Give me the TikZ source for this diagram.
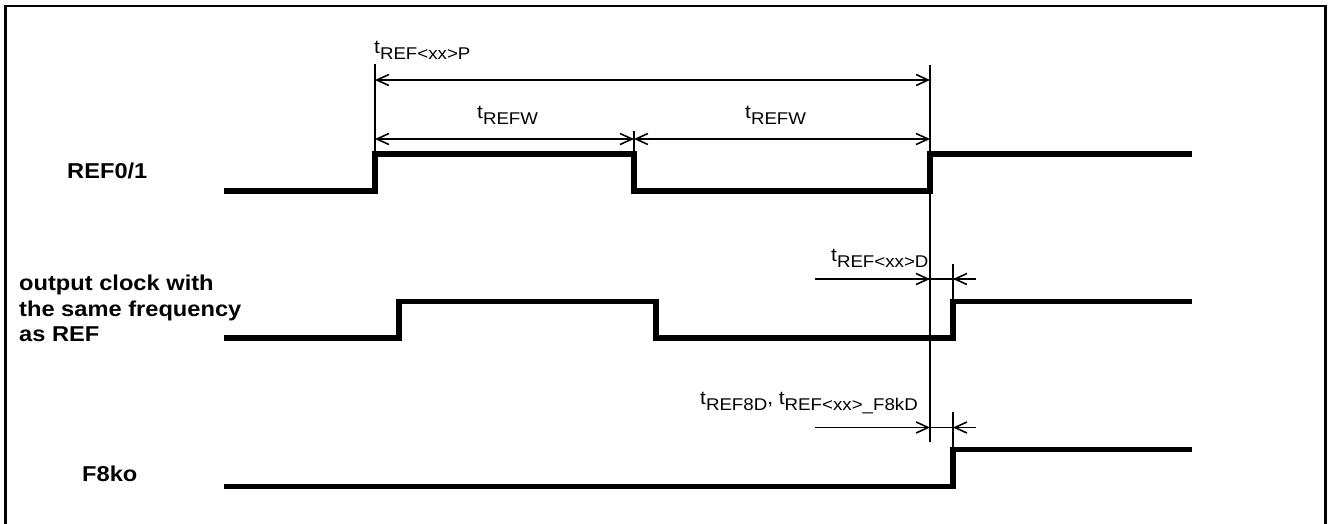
\documentclass[tikz,border=0pt]{standalone}
\usepackage{fontspec}
\setmainfont{Liberation Sans}[FakeStretch=1.1]
\usetikzlibrary{arrows.meta}
\newcommand{\tsub}[1]{{\fontsize{19}{20}\selectfont t}\raisebox{-5.5pt}{\fontsize{17}{18}\selectfont #1}}
\begin{document}
\begin{tikzpicture}[x=1pt,y=-1pt,
  sig/.style={line width=5.5pt, line join=miter, line cap=butt},
  dim/.style={line width=1.6pt},
  barb/.tip={Straight Barb[length=12pt,width=11pt,line width=1.6pt]},
  lab/.style={font=\fontsize{21.5}{25.5}\selectfont\bfseries, anchor=base west, inner sep=0pt},
  tl/.style={anchor=base west, inner sep=0pt}]
\useasboundingbox (0,0) rectangle (1328,523);
\draw[line width=2.6pt] (5.5,6) rectangle (1325.5,545);
% signals
\draw[sig] (224,191) -| (375,154) -| (634,191) -| (930,154) -- (1192,154);
\draw[sig] (224,338) -| (399,301.5) -| (656,338) -| (953,301.5) -- (1192,301.5);
\draw[sig] (224,486.5) -| (953,449.5) -- (1192,449.5);
% reference lines
\coordinate (r1t) at (375,64);   \coordinate (r1b) at (375,154);
\coordinate (f1t) at (634,131);  \coordinate (f1b) at (634,154);
\coordinate (r2t) at (930,65);   \coordinate (r2b) at (930,442);
\coordinate (d1t) at (953,264);  \coordinate (d1b) at (953,301.5);
\coordinate (d2t) at (953,412);  \coordinate (d2b) at (953,449.5);
\draw[dim] (r1t) -- (r1b);
\draw[dim] (f1t) -- (f1b);
\draw[dim] (r2t) -- (r2b);
\draw[dim] (d1t) -- (d1b);
\draw[dim] (d2t) -- (d2b);
% period / width arrows
\coordinate (pA) at (375,80);  \coordinate (pB) at (930,80);
\coordinate (wA) at (375,139); \coordinate (wB) at (634,139); \coordinate (wC) at (930,139);
\draw[dim,barb-barb] (pA) -- (pB);
\draw[dim,barb-barb] (wA) -- (wB);
\draw[dim,barb-barb] (wB) -- (wC);
% delay arrows
\coordinate (dA) at (815,279); \coordinate (dB) at (930,279); \coordinate (dC) at (953,279); \coordinate (dD) at (976,279);
\draw[dim] (dA) -- (dD);
\draw[dim,-barb] (dA) -- (dB);
\draw[dim,-barb] (dD) -- (dC);
\coordinate (eA) at (815,427.5); \coordinate (eB) at (930,427.5); \coordinate (eC) at (953,427.5); \coordinate (eD) at (976,427.5);
\draw[dim] (eA) -- (eD);
\draw[dim,-barb] (eA) -- (eB);
\draw[dim,-barb] (eD) -- (eC);
% timing labels
\node[tl] (lp) at (374,53.8) {\tsub{REF<xx>P}};
\node[tl] (lw1) at (477,118.8) {\tsub{REFW}};
\node[tl] (lw2) at (745,118.8) {\tsub{REFW}};
\node[tl] (ld) at (831,261.5) {\tsub{REF<xx>D}};
\node[tl] (le) at (700,404.5) {\tsub{REF8D}{\fontsize{19}{20}\selectfont, }\tsub{REF<xx>\_F8kD}};
% signal names
\node[lab] (n1) at (67,178.5) {REF0/1};
\node[lab] (n2a) at (19,290.7) {output clock with};
\node[lab] (n2b) at (19,316) {the same frequency};
\node[lab] (n2c) at (19,341.7) {as REF};
\node[lab] (n3) at (82,481.7) {F8ko};
\end{tikzpicture}
\end{document}
